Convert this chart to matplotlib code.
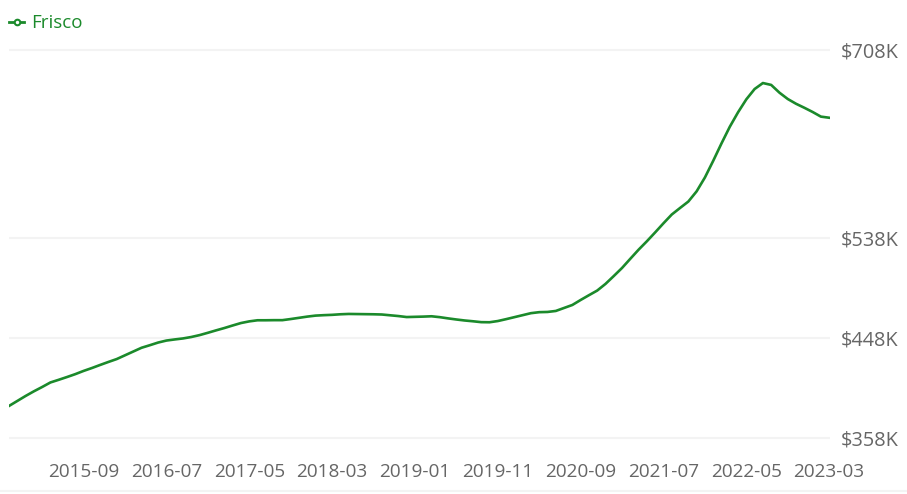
import matplotlib.pyplot as plt
from matplotlib.lines import Line2D

# monthly values, 2014-12 .. 2023-03, in $K
months = []
y, m = 2014, 12
for _ in range(100):
    months.append(f'{y}-{m:02d}')
    m += 1
    if m > 12:
        y, m = y + 1, 1

prices = [
    386.9, 391.4, 395.9, 400.1, 404.0, 408.1, 410.5, 413.0, 415.6, 418.5,
    421.1, 423.9, 426.6, 429.2, 432.6, 436.0, 439.4, 441.7, 444.1, 445.9,
    446.9, 447.8, 449.1, 450.8, 452.9, 455.1, 457.2, 459.5, 461.7, 463.2,
    464.2, 464.2, 464.3, 464.3, 465.3, 466.4, 467.5, 468.4, 468.8, 469.1,
    469.6, 469.9, 469.8, 469.7, 469.6, 469.4, 468.7, 468.0, 467.1, 467.3,
    467.5, 467.8, 467.0, 465.9, 464.9, 464.0, 463.3, 462.5, 462.4, 463.5,
    465.2, 467.0, 468.8, 470.6, 471.5, 471.7, 472.6, 475.3, 478.0, 482.5,
    486.8, 491.0, 497.0, 504.1, 511.4, 519.7, 527.9, 535.5, 543.5, 551.7,
    559.6, 565.5, 571.3, 580.5, 593.0, 608.0, 623.7, 638.7, 651.8, 663.5,
    672.8, 678.2, 676.5, 669.5, 663.8, 659.5, 655.9, 652.1, 647.9, 646.9,
]

yticks = [358, 448, 538, 708]
ytick_labels = ['$358K', '$448K', '$538K', '$708K']
xtick_idx = list(range(9, 100, 10))

green = '#1b8a2b'
grey = '#666666'

plt.rcParams['font.family'] = ['Open Sans', 'DejaVu Sans']

fig = plt.figure(figsize=(9.07, 4.94), dpi=100)
W, H = 907, 494
pad = 5.54
ax = fig.add_axes([9 / W, 1 - (438 + pad) / H, (830 - 9) / W, (388 + 2 * pad) / H])

ax.plot(range(len(prices)), prices, color=green, lw=1.9)

ax.set_xlim(0, 99.1)
ax.set_ylim(353, 713)
ax.set_yticks(yticks)
ax.set_yticklabels(ytick_labels)
ax.yaxis.tick_right()
ax.set_xticks(xtick_idx)
ax.set_xticklabels([months[i] for i in xtick_idx])
ax.tick_params(axis='both', length=0, colors=grey)
ax.tick_params(axis='y', pad=8, labelsize=14.3)
ax.tick_params(axis='x', pad=14, labelsize=13.7)
ax.grid(axis='y', color='#f3f3f3', lw=1.5)
ax.set_axisbelow(True)
for s in ax.spines.values():
    s.set_visible(False)

# legend
handle = Line2D([], [], color=green, lw=2, marker='o', markersize=4,
                markerfacecolor='white', markeredgecolor=green, markeredgewidth=1.5)
leg = fig.legend([handle], ['Frisco'], loc='upper left', bbox_to_anchor=(0.0, 0.99),
                 frameon=False, fontsize=13.5, handlelength=0.8, handletextpad=0.35,
                 borderaxespad=0.1)
for t in leg.get_texts():
    t.set_color(green)

# faint bottom border
fig.add_artist(Line2D([0, 1], [1 - 491 / H, 1 - 491 / H], transform=fig.transFigure,
                      color='#f3f3f3', lw=1.5))

fig.savefig('out.png', dpi=100)
